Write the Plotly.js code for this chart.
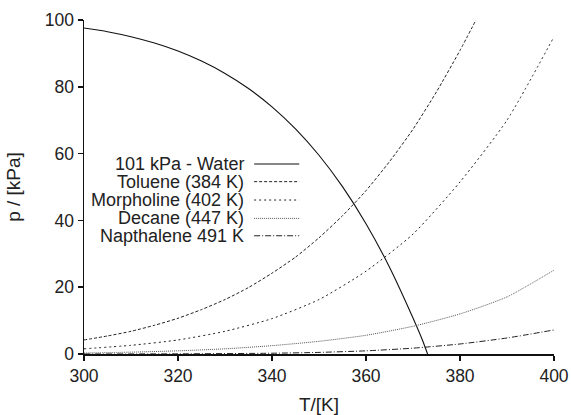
<!DOCTYPE html>
<html>
<head>
<meta charset="utf-8">
<script src="https://cdn.plot.ly/plotly-3.0.1.min.js"></script>
<style>html,body{margin:0;padding:0;background:#fff}#chart{width:571px;height:415px}</style>
</head>
<body>
<div id="chart"></div>
<script>
// Data
var waterT = [300, 305, 310, 315, 320, 325, 330, 335, 340, 345, 350, 355, 360, 365, 370, 372, 373.1];
var waterP = [97.6, 96.5, 95.0, 93.1, 90.7, 87.7, 84.0, 79.5, 74.0, 67.4, 59.5, 50.1, 39.0, 26.0, 10.8, 4.2, 0];

var tolueneT = [300, 305, 310, 315, 320, 325, 330, 335, 340, 345, 350, 355, 360, 365, 370, 375, 380, 383.4];
var tolueneP = [4.2, 5.4, 6.8, 8.6, 10.7, 13.3, 16.3, 19.9, 24.2, 29.0, 34.8, 41.4, 48.9, 57.6, 67.3, 78.5, 90.9, 100];

var morphT = [300, 310, 320, 330, 340, 350, 360, 370, 380, 390, 400];
var morphP = [1.55, 2.6, 4.2, 6.8, 10.6, 16.3, 24.8, 35.9, 51.5, 70.0, 95.0];

var decaneT = [300, 310, 320, 330, 340, 350, 360, 370, 380, 390, 400];
var decaneP = [0.3, 0.55, 0.95, 1.55, 2.5, 3.8, 5.6, 8.3, 12.0, 17.1, 25.1];

var naphT = [300, 320, 340, 350, 360, 370, 380, 390, 400];
var naphP = [0.01, 0.05, 0.23, 0.48, 0.95, 1.75, 3.0, 4.8, 7.2];

var seriesNames = ["101 kPa - Water", "Toluene (384 K)", "Morpholine (402 K)", "Decane (447 K)", "Napthalene 491 K"];
var xTicks = [300, 320, 340, 360, 380, 400];
var yTicks = [0, 20, 40, 60, 80, 100];

var styles = [
  {color: "#111", dash: "solid", width: 1.1},
  {color: "#222", dash: "3px,2px", width: 1},
  {color: "#222", dash: "2px,3px", width: 1},
  {color: "#555", dash: "1px,1px", width: 1},
  {color: "#222", dash: "6px,2px,1px,2px", width: 1}
];

var xs = [waterT, tolueneT, morphT, decaneT, naphT];
var ys = [waterP, tolueneP, morphP, decaneP, naphP];

var traces = xs.map(function (x, i) {
  return {x: x, y: ys[i], type: "scatter", mode: "lines", name: seriesNames[i],
          line: {color: styles[i].color, dash: styles[i].dash, width: styles[i].width, shape: "spline", smoothing: 0.6},
          showlegend: false, hoverinfo: "skip"};
});

var font = {family: "Liberation Sans, Arial, sans-serif", size: 17.5, color: "#222"};
var titleFont = {family: "Liberation Sans, Arial, sans-serif", size: 19, color: "#222"};

// manual legend: text right-aligned, sample line on the right
var annotations = [], shapes = [];
var legRows = [0.569, 0.516, 0.461, 0.406, 0.354];
seriesNames.forEach(function (n, i) {
  annotations.push({xref: "paper", yref: "paper", x: 0.345, y: legRows[i], text: n, showarrow: false,
                    xanchor: "right", yanchor: "middle", font: {family: font.family, size: 18, color: "#222"}});
  shapes.push({type: "line", xref: "paper", yref: "paper", x0: 0.362, x1: 0.458, y0: legRows[i], y1: legRows[i],
               line: {color: styles[i].color, dash: styles[i].dash, width: styles[i].width}});
});

var axisCommon = {showline: true, linecolor: "#111", linewidth: 1.5, ticks: "outside", ticklen: 5, tickwidth: 1.5,
                  tickcolor: "#111", showgrid: false, zeroline: false, tickfont: font, mirror: false};

var layout = {
  width: 571, height: 415,
  margin: {l: 84, r: 17, t: 20, b: 61},
  paper_bgcolor: "#fff", plot_bgcolor: "#fff",
  font: font,
  xaxis: Object.assign({}, axisCommon, {range: [300, 400], tickvals: xTicks, ticktext: xTicks.map(String),
         title: {text: "T/[K]", font: titleFont, standoff: 14}}),
  yaxis: Object.assign({}, axisCommon, {range: [0, 100], tickvals: yTicks, ticktext: yTicks.map(String),
         title: {text: "p / [kPa]", font: titleFont, standoff: 19}}),
  annotations: annotations,
  shapes: shapes
};

Plotly.newPlot("chart", traces, layout, {displayModeBar: false, staticPlot: true});
</script>
</body>
</html>
